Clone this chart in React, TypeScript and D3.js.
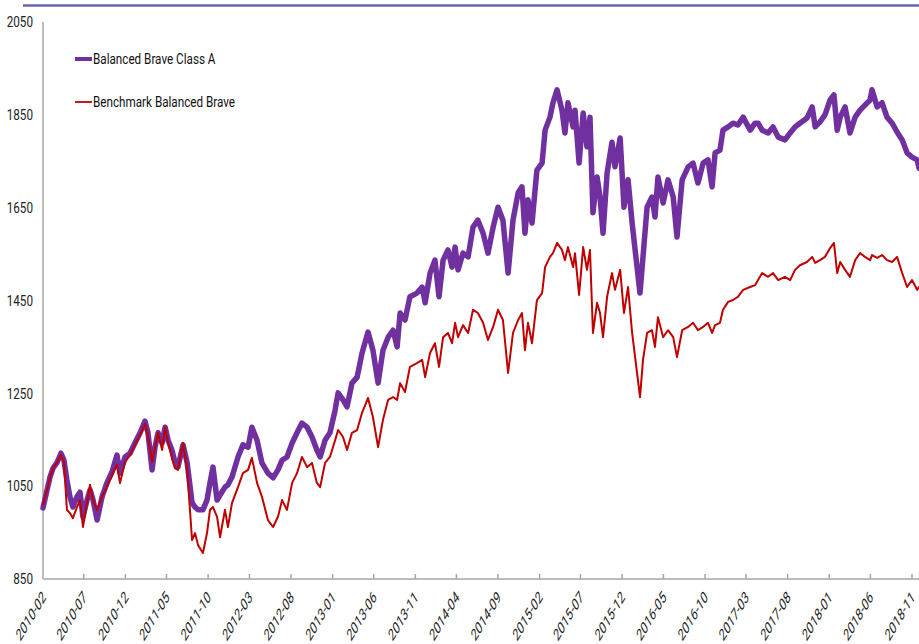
import * as d3 from 'd3';

const LAUNCH = '2010-02-01';

// days since launch of each sampled close
const DAY_OFFSETS = [
  0, 15, 26, 37, 51, 66, 77, 88, 99, 110,
  125, 136, 147, 162, 173, 184, 199, 217, 235, 254,
  272, 283, 302, 320, 338, 357, 375, 386, 401, 412,
  423, 438, 449, 460, 474, 485, 496, 515, 530, 548,
  559, 570, 588, 603, 614, 625, 640, 651, 669, 680,
  695, 717, 735, 754, 768, 787, 805, 827, 846, 864,
  879, 897, 916, 934, 952, 971, 989, 1007, 1019, 1037,
  1055, 1074, 1085, 1103, 1118, 1136, 1155, 1173, 1195, 1213,
  1232, 1250, 1269, 1287, 1302, 1313, 1331, 1349, 1375, 1394,
  1405, 1423, 1441, 1456, 1471, 1489, 1504, 1515, 1526, 1544,
  1563, 1581, 1599, 1618, 1636, 1655, 1673, 1691, 1710, 1728,
  1747, 1761, 1772, 1783, 1798, 1816, 1835, 1846, 1864, 1875,
  1890, 1908, 1919, 1930, 1949, 1956, 1971, 1986, 2000, 2011,
  2022, 2037, 2048, 2059, 2074, 2092, 2103, 2122, 2136, 2151,
  2166, 2177, 2195, 2206, 2221, 2239, 2250, 2261, 2280, 2298,
  2317, 2331, 2350, 2372, 2390, 2408, 2427, 2445, 2460, 2471,
  2489, 2500, 2519, 2537, 2555, 2574, 2600, 2618, 2629, 2644,
  2666, 2684, 2703, 2728, 2747, 2765, 2783, 2809, 2828, 2839,
  2857, 2875, 2894, 2908, 2920, 2931, 2949, 2967, 2986, 3004,
  3022, 3041, 3048, 3067, 3085, 3103, 3122, 3140, 3159, 3177,
  3195, 3214, 3221,
];

const CLASS_A = [
  1003, 1042, 1070, 1089, 1100, 1121, 1106, 1063, 1027, 1005,
  1027, 1037, 984, 1020, 1042, 1020, 977, 1027, 1057, 1081,
  1117, 1078, 1113, 1121, 1143, 1165, 1190, 1165, 1085, 1134,
  1165, 1143, 1177, 1149, 1128, 1102, 1091, 1139, 1100, 1014,
  1005, 999, 999, 1020, 1057, 1091, 1020, 1031, 1048, 1053,
  1070, 1113, 1139, 1134, 1177, 1149, 1100, 1078, 1068, 1085,
  1106, 1113, 1143, 1165, 1186, 1177, 1156, 1128, 1113, 1149,
  1165, 1214, 1251, 1236, 1221, 1272, 1285, 1337, 1382, 1343,
  1272, 1343, 1371, 1386, 1350, 1423, 1408, 1458, 1466, 1479,
  1445, 1509, 1537, 1458, 1537, 1559, 1522, 1565, 1516, 1552,
  1544, 1608, 1623, 1595, 1552, 1608, 1651, 1623, 1509, 1623,
  1682, 1695, 1595, 1667, 1617, 1731, 1746, 1817, 1845, 1876,
  1904, 1860, 1811, 1876, 1824, 1860, 1746, 1854, 1781, 1845,
  1639, 1716, 1673, 1595, 1725, 1791, 1738, 1800, 1651, 1710,
  1617, 1559, 1466, 1544, 1651, 1673, 1630, 1716, 1660, 1710,
  1673, 1587, 1710, 1738, 1746, 1703, 1746, 1753, 1695, 1768,
  1774, 1817, 1824, 1832, 1828, 1845, 1817, 1832, 1832, 1817,
  1811, 1824, 1802, 1796, 1811, 1824, 1832, 1843, 1867, 1824,
  1835, 1850, 1882, 1893, 1817, 1845, 1867, 1811, 1845, 1860,
  1871, 1882, 1904, 1867, 1876, 1845, 1832, 1813, 1796, 1768,
  1759, 1753, 1735,
];

const BENCHMARK = [
  1010, 1042, 1068, 1089, 1100, 1117, 1102, 999, 992, 981,
  1005, 1020, 962, 1014, 1053, 1020, 999, 1027, 1048, 1074,
  1096, 1057, 1102, 1117, 1139, 1160, 1184, 1156, 1102, 1134,
  1165, 1128, 1177, 1143, 1111, 1089, 1085, 1143, 1085, 934,
  949, 923, 906, 949, 999, 1005, 984, 940, 999, 962,
  1014, 1048, 1078, 1085, 1111, 1057, 1027, 977, 962, 984,
  1020, 999, 1057, 1078, 1113, 1091, 1100, 1057, 1048, 1100,
  1113, 1149, 1171, 1156, 1128, 1165, 1171, 1208, 1240, 1199,
  1134, 1193, 1236, 1242, 1236, 1272, 1253, 1307, 1315, 1322,
  1285, 1337, 1358, 1307, 1371, 1380, 1358, 1402, 1371, 1397,
  1380, 1430, 1423, 1402, 1365, 1393, 1430, 1408, 1294, 1380,
  1408, 1423, 1343, 1402, 1358, 1451, 1466, 1522, 1544, 1552,
  1574, 1559, 1537, 1565, 1522, 1552, 1462, 1565, 1516, 1559,
  1380, 1445, 1423, 1371, 1458, 1509, 1473, 1516, 1423, 1479,
  1380, 1328, 1242, 1322, 1380, 1386, 1350, 1414, 1371, 1386,
  1371, 1328, 1386, 1393, 1402, 1386, 1393, 1402, 1380, 1397,
  1402, 1430, 1447, 1451, 1458, 1473, 1479, 1483, 1494, 1509,
  1501, 1509, 1494, 1501, 1494, 1516, 1526, 1533, 1544, 1531,
  1537, 1544, 1563, 1574, 1509, 1533, 1516, 1501, 1537, 1552,
  1544, 1537, 1548, 1542, 1548, 1537, 1533, 1544, 1509, 1479,
  1494, 1473, 1479,
];

const TICK_MONTHS = [
  '2010-02', '2010-07', '2010-12', '2011-05', '2011-10', '2012-03', '2012-08',
  '2013-01', '2013-06', '2013-11', '2014-04', '2014-09', '2015-02', '2015-07',
  '2015-12', '2016-05', '2016-10', '2017-03', '2017-08', '2018-01', '2018-06',
  '2018-11',
];
const Y_TICKS = [850, 1050, 1250, 1450, 1650, 1850, 2050];

const SERIES = [
  { name: 'Balanced Brave Class A', values: CLASS_A, color: '#7030a0', width: 5.5, legendWidth: 4 },
  { name: 'Benchmark Balanced Brave', values: BENCHMARK, color: '#c00000', width: 2, legendWidth: 1.8 },
];

const WIDTH = 919;
const HEIGHT = 644;
const FONT = 'Roboto, "Liberation Sans", Arial, sans-serif';
// the source picture is squeezed sideways, so its text is too
const SQUEEZE = 'scale(0.78,1)';
// 45° labels squeezed sideways come out steep and slanted
const LABEL_SQUEEZE = 'scale(0.6,1) rotate(-45)';

const parseMonth = d3.timeParse('%Y-%m');
const parseDay = d3.timeParse('%Y-%m-%d');

export default function App() {
  const launch = parseDay(LAUNCH) as Date;
  const dates = DAY_OFFSETS.map((d) => d3.timeDay.offset(launch, d));
  const tickDates = TICK_MONTHS.map((m) => parseMonth(m) as Date);

  const x = d3
    .scaleTime()
    .domain([tickDates[0], tickDates[tickDates.length - 1]])
    .range([43, 912]);
  const y = d3.scaleLinear().domain([850, 2050]).range([579, 22]);

  const line = (values: number[]) =>
    d3
      .line<number>()
      .x((_, i) => x(dates[i]))
      .y((v) => y(v))(values) ?? '';

  return (
    <svg
      width={WIDTH}
      height={HEIGHT}
      style={{ position: 'absolute', left: 0, top: 0, background: '#fff' }}
      fontFamily={FONT}
    >
      {/* title rule, title text itself sits above the crop */}
      <line x1={23} x2={WIDTH} y1={5.5} y2={5.5} stroke='#6767b0' strokeWidth={2.5} />

      {/* y axis */}
      <line x1={x.range()[0]} x2={x.range()[0]} y1={y(2050)} y2={y(850)} stroke='#a6a6a6' strokeWidth={1.5} />
      {Y_TICKS.map((t) => (
        <text
          key={t}
          transform={`translate(33,${y(t)}) ${SQUEEZE}`}
          dy='0.35em'
          textAnchor='end'
          fontSize={15}
          fill='#222'
        >
          {t}
        </text>
      ))}

      {/* x axis */}
      <line x1={x.range()[0]} x2={WIDTH} y1={y(850)} y2={y(850)} stroke='#a6a6a6' strokeWidth={1.5} />
      {tickDates.map((d, i) => (
        <g key={TICK_MONTHS[i]} transform={`translate(${x(d)},${y(850)})`}>
          {i > 0 && <line y1={0} y2={-5} stroke='#a6a6a6' strokeWidth={1.5} />}
          <text
            transform={`translate(1,15) ${LABEL_SQUEEZE}`}
            textAnchor='end'
            dy='0.35em'
            fontSize={17}
            fill='#222'
          >
            {TICK_MONTHS[i]}
          </text>
        </g>
      ))}

      {/* series */}
      {SERIES.map((s) => (
        <path
          key={s.name}
          d={line(s.values)}
          fill='none'
          stroke={s.color}
          strokeWidth={s.width}
          strokeLinejoin='round'
          strokeLinecap='round'
        />
      ))}

      {/* legend */}
      {SERIES.map((s, i) => (
        <g key={s.name} transform={`translate(75,${59 + i * 43})`}>
          <line x1={0} x2={17} stroke={s.color} strokeWidth={s.legendWidth} />
          <text transform={`translate(18,0) ${SQUEEZE}`} dy='0.35em' fontSize={15} fill='#111'>
            {s.name}
          </text>
        </g>
      ))}
    </svg>
  );
}
